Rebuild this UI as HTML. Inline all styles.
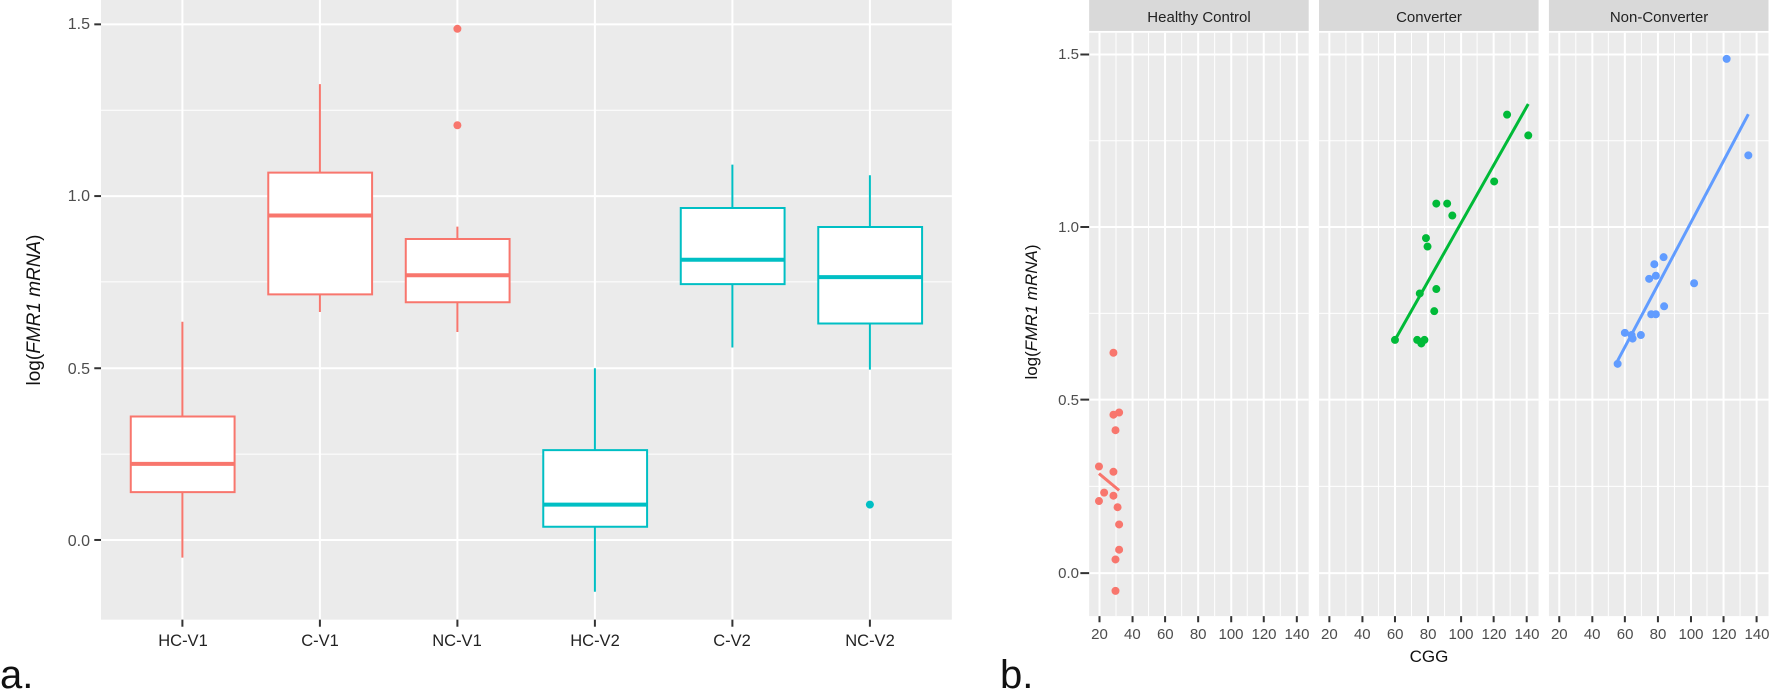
<!DOCTYPE html>
<html><head><meta charset="utf-8"><style>
html,body{margin:0;padding:0;background:#fff;}
svg{display:block;font-family:"Liberation Sans",sans-serif;}
</style></head><body>
<svg width="1770" height="694" viewBox="0 0 1770 694" xmlns="http://www.w3.org/2000/svg">
<!-- Panel a -->
<g transform="scale(0.56122,0.44260)">
 <rect x="180" y="0" width="1516" height="1400" fill="#ebebeb"/>
 <g stroke="#fff">
  <g stroke-width="1">
   <line x1="180" x2="1696" y1="249" y2="249" vector-effect="non-scaling-stroke"/>
   <line x1="180" x2="1696" y1="637" y2="637" vector-effect="non-scaling-stroke"/>
   <line x1="180" x2="1696" y1="1026" y2="1026" vector-effect="non-scaling-stroke"/>
  </g>
  <g stroke-width="2">
   <line x1="180" x2="1696" y1="55" y2="55" vector-effect="non-scaling-stroke"/>
   <line x1="180" x2="1696" y1="443" y2="443" vector-effect="non-scaling-stroke"/>
   <line x1="180" x2="1696" y1="832" y2="832" vector-effect="non-scaling-stroke"/>
   <line x1="180" x2="1696" y1="1220" y2="1220" vector-effect="non-scaling-stroke"/>
   <line x1="325" x2="325" y1="0" y2="1400" vector-effect="non-scaling-stroke"/>
   <line x1="570" x2="570" y1="0" y2="1400" vector-effect="non-scaling-stroke"/>
   <line x1="815" x2="815" y1="0" y2="1400" vector-effect="non-scaling-stroke"/>
   <line x1="1060" x2="1060" y1="0" y2="1400" vector-effect="non-scaling-stroke"/>
   <line x1="1305" x2="1305" y1="0" y2="1400" vector-effect="non-scaling-stroke"/>
   <line x1="1550" x2="1550" y1="0" y2="1400" vector-effect="non-scaling-stroke"/>
  </g>
 </g>
 <g stroke="#333" stroke-width="2">
  <line x1="168" x2="180" y1="55" y2="55" vector-effect="non-scaling-stroke"/>
  <line x1="168" x2="180" y1="443" y2="443" vector-effect="non-scaling-stroke"/>
  <line x1="168" x2="180" y1="832" y2="832" vector-effect="non-scaling-stroke"/>
  <line x1="168" x2="180" y1="1220" y2="1220" vector-effect="non-scaling-stroke"/>
  <line x1="325" x2="325" y1="1400" y2="1416" vector-effect="non-scaling-stroke"/>
  <line x1="570" x2="570" y1="1400" y2="1416" vector-effect="non-scaling-stroke"/>
  <line x1="815" x2="815" y1="1400" y2="1416" vector-effect="non-scaling-stroke"/>
  <line x1="1060" x2="1060" y1="1400" y2="1416" vector-effect="non-scaling-stroke"/>
  <line x1="1305" x2="1305" y1="1400" y2="1416" vector-effect="non-scaling-stroke"/>
  <line x1="1550" x2="1550" y1="1400" y2="1416" vector-effect="non-scaling-stroke"/>
 </g>
 <g stroke="#f8766d" fill="#fff" stroke-width="2">
  <line x1="325" x2="325" y1="727" y2="1260" vector-effect="non-scaling-stroke"/>
  <rect x="233" y="941" width="185" height="171" vector-effect="non-scaling-stroke"/>
  <line x1="233" x2="418" y1="1048" y2="1048" stroke-width="4" vector-effect="non-scaling-stroke"/>
  <line x1="570" x2="570" y1="190" y2="705" vector-effect="non-scaling-stroke"/>
  <rect x="478" y="390" width="185" height="275" vector-effect="non-scaling-stroke"/>
  <line x1="478" x2="663" y1="487" y2="487" stroke-width="4" vector-effect="non-scaling-stroke"/>
  <line x1="815" x2="815" y1="512" y2="750" vector-effect="non-scaling-stroke"/>
  <rect x="723" y="540" width="185" height="143" vector-effect="non-scaling-stroke"/>
  <line x1="723" x2="908" y1="622" y2="622" stroke-width="4" vector-effect="non-scaling-stroke"/>
 </g>
 <g stroke="#00bfc4" fill="#fff" stroke-width="2">
  <line x1="1060" x2="1060" y1="832" y2="1337" vector-effect="non-scaling-stroke"/>
  <rect x="968" y="1017" width="185" height="173" vector-effect="non-scaling-stroke"/>
  <line x1="968" x2="1153" y1="1140" y2="1140" stroke-width="4" vector-effect="non-scaling-stroke"/>
  <line x1="1305" x2="1305" y1="372" y2="785" vector-effect="non-scaling-stroke"/>
  <rect x="1213" y="470" width="185" height="172" vector-effect="non-scaling-stroke"/>
  <line x1="1213" x2="1398" y1="587" y2="587" stroke-width="4" vector-effect="non-scaling-stroke"/>
  <line x1="1550" x2="1550" y1="396" y2="835" vector-effect="non-scaling-stroke"/>
  <rect x="1458" y="513" width="185" height="218" vector-effect="non-scaling-stroke"/>
  <line x1="1458" x2="1643" y1="626" y2="626" stroke-width="4" vector-effect="non-scaling-stroke"/>
 </g>
 <g stroke-linecap="round" stroke-width="8" fill="none">
  <path d="M815 65h0.01M815 283h0.01" stroke="#f8766d" vector-effect="non-scaling-stroke"/>
  <path d="M1550 1140h0.01" stroke="#00bfc4" vector-effect="non-scaling-stroke"/>
 </g>
</g>
<g font-size="16" fill="#4d4d4d" text-anchor="end">
 <text x="90" y="29">1.5</text><text x="90" y="201">1.0</text>
 <text x="90" y="374">0.5</text><text x="90" y="546">0.0</text>
</g>
<g font-size="16.5" fill="#222" text-anchor="middle">
 <text x="183" y="646">HC-V1</text><text x="320" y="646">C-V1</text><text x="457" y="646">NC-V1</text>
 <text x="595" y="646">HC-V2</text><text x="732" y="646">C-V2</text><text x="870" y="646">NC-V2</text>
</g>
<text transform="translate(40,310) rotate(-90)" font-size="19" text-anchor="middle" fill="#111">log(<tspan font-style="italic">FMR1 mRNA</tspan>)</text>
<text x="0" y="688" font-size="40" fill="#111">a.</text>

<!-- Panel b -->
<g transform="translate(960,0) scale(0.5166,0.4426)">
 <rect x="250" y="0" width="425" height="70" fill="#d9d9d9"/>
 <rect x="695" y="0" width="425" height="70" fill="#d9d9d9"/>
 <rect x="1140" y="0" width="425" height="70" fill="#d9d9d9"/>
 <rect x="250" y="74" width="425" height="1318" fill="#ebebeb"/>
 <rect x="695" y="74" width="425" height="1318" fill="#ebebeb"/>
 <rect x="1140" y="74" width="425" height="1318" fill="#ebebeb"/>
 <g stroke="#fff">
  <g stroke-width="1">
   <path vector-effect="non-scaling-stroke" d="M250 318H675M250 708H675M250 1099H675M695 318H1120M695 708H1120M695 1099H1120M1140 318H1565M1140 708H1565M1140 1099H1565
   M302 74V1392M365 74V1392M429 74V1392M493 74V1392M556 74V1392M620 74V1392
   M747 74V1392M810 74V1392M874 74V1392M938 74V1392M1001 74V1392M1065 74V1392
   M1192 74V1392M1255 74V1392M1319 74V1392M1383 74V1392M1446 74V1392M1510 74V1392"/>
  </g>
  <g stroke-width="2">
   <path vector-effect="non-scaling-stroke" d="M250 123H675M250 513H675M250 903H675M250 1295H675M695 123H1120M695 513H1120M695 903H1120M695 1295H1120M1140 123H1565M1140 513H1565M1140 903H1565M1140 1295H1565
   M270 74V1392M334 74V1392M397 74V1392M461 74V1392M525 74V1392M588 74V1392M652 74V1392
   M715 74V1392M779 74V1392M842 74V1392M906 74V1392M970 74V1392M1033 74V1392M1097 74V1392
   M1160 74V1392M1224 74V1392M1287 74V1392M1351 74V1392M1415 74V1392M1478 74V1392M1542 74V1392"/>
  </g>
 </g>
 <g stroke="#333" stroke-width="2">
  <path vector-effect="non-scaling-stroke" d="M233 123H250M233 513H250M233 903H250M233 1295H250
  M270 1392V1406M334 1392V1406M397 1392V1406M461 1392V1406M525 1392V1406M588 1392V1406M652 1392V1406
  M715 1392V1406M779 1392V1406M842 1392V1406M906 1392V1406M970 1392V1406M1033 1392V1406M1097 1392V1406
  M1160 1392V1406M1224 1392V1406M1287 1392V1406M1351 1392V1406M1415 1392V1406M1478 1392V1406M1542 1392V1406"/>
 </g>
 <g stroke-width="3">
  <line x1="269" y1="1070" x2="308" y2="1108" stroke="#f8766d" vector-effect="non-scaling-stroke"/>
  <line x1="842" y1="768" x2="1100" y2="235" stroke="#00ba38" vector-effect="non-scaling-stroke"/>
  <line x1="1273" y1="815" x2="1526" y2="258" stroke="#619cff" vector-effect="non-scaling-stroke"/>
 </g>
 <g stroke-linecap="round" stroke-width="8" fill="none">
  <path vector-effect="non-scaling-stroke" stroke="#f8766d" d="M297 797h.01M297 937h.01M308 932h.01M301 972h.01M269 1054h.01M297 1066h.01M279 1113h.01M297 1120h.01M269 1132h.01M305 1146h.01M308 1185h.01M308 1242h.01M301 1264h.01M301 1335h.01"/>
  <path vector-effect="non-scaling-stroke" stroke="#00ba38" d="M842 768h.01M885 768h.01M893 776h.01M899 768h.01M890 663h.01M922 653h.01M918 703h.01M902 538h.01M905 557h.01M922 460h.01M943 460h.01M953 487h.01M1034 410h.01M1059 259h.01M1100 306h.01"/>
  <path vector-effect="non-scaling-stroke" stroke="#619cff" d="M1273 822h.01M1287 752h.01M1302 765h.01M1318 757h.01M1300 757h.01M1334 630h.01M1344 597h.01M1347 623h.01M1362 581h.01M1338 710h.01M1347 710h.01M1363 692h.01M1421 640h.01M1484 133h.01M1526 351h.01"/>
 </g>
</g>
<g font-size="15" fill="#222" text-anchor="middle">
 <text x="1199" y="22">Healthy Control</text><text x="1429" y="22">Converter</text><text x="1659" y="22">Non-Converter</text>
</g>
<g font-size="15" fill="#4d4d4d" text-anchor="end">
 <text x="1079" y="59">1.5</text><text x="1079" y="232">1.0</text><text x="1079" y="405">0.5</text><text x="1079" y="578">0.0</text>
</g>
<g font-size="15" fill="#4d4d4d" text-anchor="middle">
 <text x="1099.5" y="639">20</text><text x="1132.4" y="639">40</text><text x="1165.3" y="639">60</text><text x="1198.2" y="639">80</text><text x="1231" y="639">100</text><text x="1264" y="639">120</text><text x="1297" y="639">140</text>
 <text x="1329.4" y="639">20</text><text x="1362.3" y="639">40</text><text x="1395.2" y="639">60</text><text x="1428.1" y="639">80</text><text x="1461" y="639">100</text><text x="1494" y="639">120</text><text x="1527" y="639">140</text>
 <text x="1559.3" y="639">20</text><text x="1592.2" y="639">40</text><text x="1625.1" y="639">60</text><text x="1658" y="639">80</text><text x="1691" y="639">100</text><text x="1724" y="639">120</text><text x="1757" y="639">140</text>
</g>
<text x="1429" y="662" font-size="17" text-anchor="middle" fill="#111">CGG</text>
<text transform="translate(1037,312) rotate(-90)" font-size="17" text-anchor="middle" fill="#111">log(<tspan font-style="italic">FMR1 mRNA</tspan>)</text>
<text x="1000" y="688" font-size="40" fill="#111">b.</text>
</svg>
</body></html>
